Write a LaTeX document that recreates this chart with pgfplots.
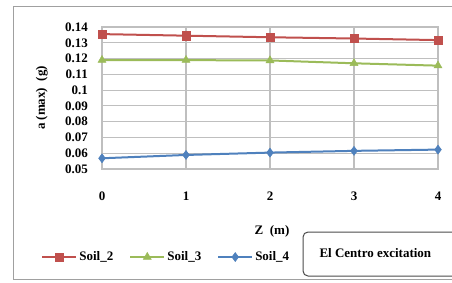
\documentclass[border=0pt]{standalone}
\usepackage{pgfplots}
\pgfplotsset{compat=1.18}
\usepackage{fontspec}
\setmainfont{Liberation Serif}
\definecolor{cRed}{RGB}{192,80,77}
\definecolor{cGreen}{RGB}{155,187,89}
\definecolor{cBlue}{RGB}{79,129,189}
\definecolor{cGrid}{RGB}{191,191,191}
\definecolor{cFrame}{RGB}{160,160,160}
\begin{document}
\begin{tikzpicture}[x=1pt,y=1pt]
\useasboundingbox (0,0) rectangle (452,282);
\clip (0,0) rectangle (452,282);
\fill[white] (0,0) rectangle (452,282);
\draw[cFrame, line width=1pt] (13,3) rectangle (470,276);
\begin{axis}[
  at={(102pt,113pt)}, anchor=south west,
  scale only axis, width=336pt, height=142pt,
  xmin=0, xmax=4, ymin=0.05, ymax=0.14,
  xtick={0,1,2,3,4}, ytick={0.05,0.06,...,0.141},
  grid=major,
  major grid style={cGrid, line width=1.2pt},
  axis line style={cGrid, line width=1.2pt},
  major tick length=0pt,
  clip=false,
  font=\fontsize{13}{15}\selectfont\bfseries,
  /pgf/number format/assume math mode=true,
  yticklabel style={/pgf/number format/fixed, /pgf/number format/precision=2, anchor=east, xshift=-10.7pt},
  xticklabel style={anchor=center, yshift=-27pt},
  xlabel={Z\ \ (m)},
  ylabel={a (max)\ \ (g)},
  xlabel style={at={(axis description cs:0.506,-0.437)}, anchor=center},
  ylabel style={at={(axis description cs:-0.179,0.5)}, anchor=center, rotate=0},
  legend columns=3,
  legend style={at={(axis description cs:-0.19,-0.62)}, anchor=west, draw=none, fill=none,
    font=\fontsize{13}{15}\selectfont\bfseries, /tikz/every even column/.append style={column sep=14pt}},
  legend image code/.code={\draw[mark repeat=2,mark phase=2] plot coordinates {(0pt,0pt)(17pt,0pt)(34pt,0pt)};},
]
\addplot[cRed, line width=2pt, mark=square*, mark size=4.2pt, mark options={solid, line width=0.5pt}] coordinates {(0,0.1355) (1,0.1345) (2,0.1335) (3,0.1327) (4,0.1317)};
\addlegendentry{Soil\_2}
\addplot[cGreen, line width=2pt, mark=triangle*, mark size=4.6pt, mark options={solid, line width=0.5pt}] coordinates {(0,0.1190) (1,0.1190) (2,0.1188) (3,0.1170) (4,0.1155)};
\addlegendentry{Soil\_3}
\addplot[cBlue, line width=2pt, mark=diamond*, mark size=4.5pt, mark options={solid, line width=0.5pt}] coordinates {(0,0.0568) (1,0.0589) (2,0.0604) (3,0.0615) (4,0.0623)};
\addlegendentry{Soil\_4}
\end{axis}
\draw[black!70, line width=1pt, rounded corners=5pt] (303,6) rectangle (470,50);
\node[anchor=west, font=\fontsize{13}{15}\selectfont\bfseries] at (316,29) {El Centro excitation};
\end{tikzpicture}
\end{document}
